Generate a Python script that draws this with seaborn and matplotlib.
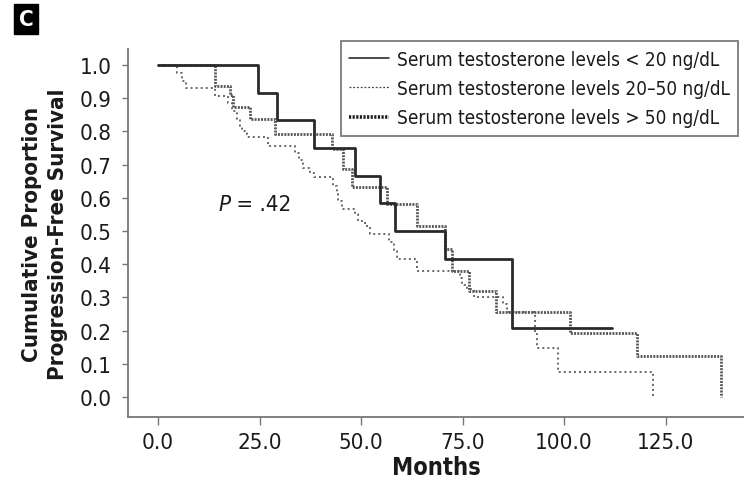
import matplotlib
matplotlib.use("Agg")
import matplotlib.pyplot as plt
import seaborn as sns
import pandas as pd
from matplotlib import font_manager
from matplotlib.lines import Line2D

# Kaplan-Meier step points (months, cumulative proportion progression-free)
months_low = [0.0, 24.6, 29.4, 38.4, 48.5, 54.7, 58.4, 70.7, 87.1, 111.7]
surv_low = [1.0, 0.917, 0.833, 0.750, 0.667, 0.583, 0.500, 0.417, 0.208, 0.208]

months_mid = [0.0, 4.6, 5.8, 7.0, 14.0, 17.3, 18.1, 19.4, 20.2, 20.8, 21.8, 27.2,
              33.7, 34.6, 35.8, 37.4, 38.3, 43.2, 44.0, 44.4, 45.2, 48.5, 49.3,
              51.0, 52.2, 56.9, 58.0, 58.8, 63.7, 74.4, 74.8, 76.0, 77.7, 85.0,
              85.9, 92.9, 93.3, 98.6, 122.0]
surv_mid = [1.0, 0.976, 0.953, 0.930, 0.907, 0.884, 0.861, 0.838, 0.815, 0.800,
            0.782, 0.757, 0.735, 0.713, 0.690, 0.675, 0.662, 0.636, 0.612, 0.590,
            0.566, 0.550, 0.531, 0.516, 0.491, 0.466, 0.440, 0.416, 0.380, 0.360,
            0.337, 0.325, 0.300, 0.280, 0.255, 0.190, 0.147, 0.074, 0.0]

months_high = [0.0, 14.0, 17.7, 18.5, 22.7, 28.8, 42.8, 45.6, 47.7, 56.3, 63.7,
               70.7, 72.3, 76.6, 83.2, 101.5, 117.9, 138.6]
surv_high = [1.0, 0.936, 0.908, 0.872, 0.837, 0.792, 0.747, 0.687, 0.632, 0.580,
             0.516, 0.446, 0.380, 0.320, 0.255, 0.193, 0.125, 0.0]

group_labels = ["Serum testosterone levels < 20 ng/dL",
                "Serum testosterone levels 20\u201350 ng/dL",
                "Serum testosterone levels > 50 ng/dL"]
x_ticks = [0, 25, 50, 75, 100, 125]
y_ticks = [0.0, 0.1, 0.2, 0.3, 0.4, 0.5, 0.6, 0.7, 0.8, 0.9, 1.0]
p_value = ".42"
panel_letter = "C"

sns.set_theme(style="white")

available = {f.name for f in font_manager.fontManager.ttflist}
if "Liberation Sans Narrow" in available:
    plt.rcParams["font.family"] = ["Liberation Sans Narrow", "DejaVu Sans"]
else:
    plt.rcParams["font.family"] = ["DejaVu Sans"]
    plt.rcParams["font.stretch"] = "condensed"

frames = []
for key, t, s in [("low", months_low, surv_low), ("mid", months_mid, surv_mid),
                  ("high", months_high, surv_high)]:
    frames.append(pd.DataFrame({"months": t, "surv": s, "group": key}))
df = pd.concat(frames, ignore_index=True)

fig = plt.figure(figsize=(7.44, 4.81), dpi=100)
ax = fig.add_axes([128 / 744, 1 - 418 / 481, 1 - 128 / 744, (418 - 50) / 481])

styles = {
    "low": dict(color="#2a2a2a", linewidth=2.0, linestyle="-"),
    "mid": dict(color="#666666", linewidth=1.4, linestyle=(0, (1.0, 1.6))),
    "high": dict(color="#555555", linewidth=2.0, linestyle=(0, (0.7, 0.45))),
}
for key in ["mid", "high", "low"]:
    sub = df[df["group"] == key]
    sns.lineplot(data=sub, x="months", y="surv", estimator=None, sort=False,
                 drawstyle="steps-post", ax=ax, legend=False, **styles[key])

ax.set_xlim(-7.39, 144.3)
ax.set_ylim(-0.060, 1.048)
ax.set_xticks(x_ticks)
ax.set_xticklabels([f"{v:.1f}" for v in x_ticks])
ax.set_yticks(y_ticks)
ax.set_yticklabels([f"{v:.1f}" for v in y_ticks])

spine_col = "#777777"
for side in ["top", "right"]:
    ax.spines[side].set_visible(False)
for side in ["left", "bottom"]:
    ax.spines[side].set_color(spine_col)
    ax.spines[side].set_linewidth(1.3)
ax.tick_params(axis="both", direction="out", colors=spine_col, labelcolor="#1a1a1a",
               labelsize=16, width=1.0, bottom=True, left=True)
ax.tick_params(axis="x", length=6, pad=5)
ax.tick_params(axis="y", length=4, pad=8)

ax.set_xlabel("Months", fontsize=17, fontweight="bold", color="#1a1a1a", labelpad=2)
ax.set_ylabel("Cumulative Proportion\nProgression-Free Survival", fontsize=16,
              fontweight="bold", color="#1a1a1a", labelpad=8, linespacing=1.4)

ptxt = ax.text(14.8, 0.55, "P", fontsize=16, fontstyle="italic", color="#1a1a1a",
               va="bottom", ha="left")
ax.annotate(" = " + p_value, xy=(1, 0), xycoords=ptxt, fontsize=16,
            color="#1a1a1a", va="bottom", ha="left")

handles = [
    Line2D([], [], color="#1a1a1a", linewidth=1.1, linestyle="-"),
    Line2D([], [], color="#444444", linewidth=0.9, linestyle=(0, (1.5, 1.5))),
    Line2D([], [], color="#1a1a1a", linewidth=2.6, linestyle=(0, (0.6, 0.4))),
]
leg = ax.legend(handles, group_labels, loc="upper right",
                bbox_to_anchor=(738 / 744, 1 - 42 / 481), bbox_transform=fig.transFigure,
                borderaxespad=0, fontsize=13.6, frameon=True, fancybox=False,
                handlelength=2.1, handletextpad=0.4, labelspacing=0.55,
                borderpad=0.45)
leg.get_frame().set_edgecolor("#666666")
leg.get_frame().set_linewidth(1.4)
for t in leg.get_texts():
    t.set_color("#1a1a1a")

fig.text(26 / 744, 1 - 20 / 481, panel_letter, fontsize=16, fontweight="bold",
         color="white", ha="center", va="center",
         bbox=dict(boxstyle="square,pad=0.22", facecolor="black", edgecolor="black"))

fig.savefig("out.png", dpi=100, facecolor="white")
